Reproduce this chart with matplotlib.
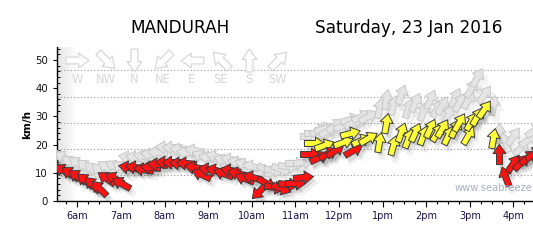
import matplotlib
matplotlib.use("Agg")
import matplotlib.pyplot as plt
import numpy as np
from matplotlib.path import Path
from matplotlib.markers import MarkerStyle
from matplotlib.transforms import Affine2D, offset_copy
from matplotlib.ticker import MultipleLocator, FixedLocator
from matplotlib.colors import LinearSegmentedColormap

# ---------------- data ----------------
station = "MANDURAH"
date_label = "Saturday, 23 Jan 2016"
watermark = "www.seabreeze"

obs_time = ["05:30", "05:40", "05:50", "06:00", "06:10", "06:20", "06:30", "06:40",
            "06:50", "07:00", "07:10", "07:20", "07:30", "07:40", "07:50", "08:00",
            "08:10", "08:20", "08:30", "08:40", "08:50", "09:00", "09:10", "09:20",
            "09:30", "09:40", "09:50", "10:00", "10:10", "10:20", "10:30", "10:40",
            "10:50", "11:00", "11:10", "11:20", "11:25", "11:32", "11:40", "11:45",
            "11:55", "12:05", "12:15", "12:20", "12:30", "12:40", "12:55", "13:05",
            "13:15", "13:25", "13:35", "13:45", "13:55", "14:05", "14:15", "14:22",
            "14:30", "14:40", "14:45", "14:57", "15:02", "15:10", "15:20", "15:32",
            "15:40", "15:48", "16:00", "16:10", "16:20", "16:28"]
avg_kmh = [12.5, 11.0, 10.0, 9.0, 7.5, 6.0, 4.5, 8.0,
           8.0, 6.5, 12.0, 12.0, 11.5, 12.0, 13.0, 14.0,
           14.0, 13.5, 13.5, 12.0, 9.5, 11.5, 11.0, 10.0,
           11.0, 10.0, 8.0, 8.5, 3.5, 6.5, 5.0, 4.5,
           6.0, 6.5, 8.5, 16.5, 20.5, 15.5, 20.0, 17.0,
           18.0, 21.0, 24.0, 18.0, 21.5, 22.5, 21.0, 27.5,
           20.0, 24.5, 22.5, 24.5, 23.5, 26.0, 24.5, 26.0,
           23.5, 26.0, 28.0, 23.5, 28.5, 30.0, 32.5, 22.5,
           16.5, 9.0, 13.5, 14.0, 15.5, 17.0]
gust_kmh = [16.0, 15.5, 14.0, 13.5, 12.5, 11.5, 11.0, 12.0,
            12.5, 12.0, 15.5, 15.5, 16.0, 16.5, 17.5, 19.0,
            19.0, 18.5, 17.5, 18.0, 16.0, 15.5, 16.0, 14.5,
            15.0, 14.0, 13.0, 12.5, 10.0, 11.0, 11.0, 11.5,
            12.5, 13.5, 14.0, 23.0, 24.0, 25.0, 26.0, 25.0,
            27.0, 27.0, 29.0, 28.0, 30.0, 30.0, 33.0, 36.0,
            34.0, 38.0, 33.0, 35.0, 32.0, 36.0, 33.0, 34.0,
            31.0, 37.0, 35.0, 36.0, 40.0, 44.0, 38.0, 34.0,
            24.0, 21.0, 23.0, 19.0, 22.0, 25.0]
dir_from = [115, 120, 125, 125, 130, 135, 135, 125,
            120, 120, 100, 100, 100, 95, 95, 95,
            90, 95, 95, 100, 115, 100, 105, 110,
            100, 105, 110, 105, 45, 300, 280, 290,
            275, 270, 265, 270, 270, 245, 250, 240,
            235, 250, 255, 240, 245, 240, 190, 190,
            195, 200, 200, 205, 200, 205, 210, 210,
            205, 205, 210, 210, 210, 210, 215, 190,
            180, 160, 215, 225, 230, 235]

hour_ticks = [6, 7, 8, 9, 10, 11, 12, 13, 14, 15, 16]
hour_labels = ["6am", "7am", "8am", "9am", "10am", "11am", "12pm", "1pm", "2pm", "3pm", "4pm"]
y_ticks = [0, 10, 20, 30, 40, 50]
compass_labels = ["W", "NW", "N", "NE", "E", "SE", "S", "SW"]
compass_deg = [270, 315, 0, 45, 90, 135, 180, 225]
grid_knots = [5, 10, 15, 20, 25]
yellow_from_kmh = 18.5

# ---------------- helpers ----------------
t_hours = [int(s[:2]) + int(s[3:]) / 60.0 for s in obs_time]

ARROW = Path([(-0.5, -0.15), (0.05, -0.15), (0.05, -0.32), (0.5, 0.0),
              (0.05, 0.32), (0.05, 0.15), (-0.5, 0.15), (-0.5, -0.15)],
             [Path.MOVETO] + [Path.LINETO] * 6 + [Path.CLOSEPOLY])


def arrow_marker(deg_from):
    # arrow points to where the wind blows
    return MarkerStyle(ARROW, transform=Affine2D().rotate_deg(270 - deg_from))


fig = plt.figure(figsize=(5.33, 2.40), dpi=100)
fig.patch.set_facecolor("white")
ax = fig.add_axes([57 / 533, 39 / 240, 476 / 533, 154 / 240])

# left gradient shading
grad = np.linspace(0, 1, 64)[None, :]
cm = LinearSegmentedColormap.from_list("g", ["#e4e4e4", "#ffffff"])
ax.imshow(grad, extent=[0, 0.04, 0, 1], transform=ax.transAxes, cmap=cm,
          aspect="auto", zorder=0, interpolation="bilinear")

ax.set_xlim(5.534, 16.45)
ax.set_ylim(0, 54.6)

# knot grid lines
for k in grid_knots:
    ax.axhline(k * 1.852, color="#9a9a9a", lw=0.8, ls=(0, (1, 2)), zorder=1)

sh1 = offset_copy(ax.transData, fig=fig, x=2.5, y=-3.5, units="dots")
sh2 = offset_copy(ax.transData, fig=fig, x=4, y=-6, units="dots")
MS = 14.5

# gust (ghost) arrows
for t, g, d in zip(t_hours, gust_kmh, dir_from):
    m = arrow_marker(d)
    ax.plot([t], [g], ls="none", marker=m, ms=MS + 1, mfc="black", mew=0,
            alpha=0.05, transform=sh2, zorder=2)
    ax.plot([t], [g], ls="none", marker=m, ms=MS, mfc="#e4e4e4", mec="#c8c8c8",
            mew=0.7, zorder=3)

# mean wind arrows
for t, s, d in zip(t_hours, avg_kmh, dir_from):
    m = arrow_marker(d)
    col = "#ffff3a" if s >= yellow_from_kmh else "#ff1212"
    ax.plot([t], [s], ls="none", marker=m, ms=MS + 1.5, mfc="black", mew=0,
            alpha=0.06, transform=sh2, zorder=4)
    ax.plot([t], [s], ls="none", marker=m, ms=MS, mfc="black", mew=0,
            alpha=0.09, transform=sh1, zorder=4)
    ax.plot([t], [s], ls="none", marker=m, ms=MS, mfc=col, mec="#3a3a3a",
            mew=0.7, zorder=5)

# compass legend
for i, (lab, d) in enumerate(zip(compass_labels, compass_deg)):
    xa = (77 + i * 28.7 - 57) / 476
    ax.plot([xa], [0.9156], ls="none", marker=arrow_marker(d), ms=16.5,
            mfc="white", mec="#d8d8d8", mew=0.9, transform=ax.transAxes,
            zorder=2, clip_on=False)
    ax.text(xa, 0.786, lab, transform=ax.transAxes, ha="center", va="center",
            fontsize=8.3, color="#d6d6d6", family="DejaVu Sans", zorder=2)

# watermark
ax.text((532 - 57) / 476, (201 - 188) / 154, watermark,
        transform=ax.transAxes, ha="right", va="center", fontsize=7.2,
        color="#a6b0c4", zorder=6)

# axes styling
for sp in ["top", "right"]:
    ax.spines[sp].set_visible(False)
ax.spines["left"].set_linewidth(1.0)
ax.spines["bottom"].set_linewidth(1.0)

ax.xaxis.set_major_locator(FixedLocator(hour_ticks))
ax.set_xticklabels(hour_labels)
ax.xaxis.set_minor_locator(MultipleLocator(0.25))
ax.yaxis.set_major_locator(FixedLocator(y_ticks))
ax.yaxis.set_minor_locator(MultipleLocator(2))
ax.tick_params(axis="x", which="major", length=4, width=0.8, pad=3.5,
               labelsize=7, labelcolor="#1c1048", direction="out")
ax.tick_params(axis="x", which="minor", length=2.2, width=0.8, direction="out")
ax.tick_params(axis="y", which="major", length=3, width=0.8, pad=3.5,
               labelsize=7.3, labelcolor="#111111", direction="out")
ax.tick_params(axis="y", which="minor", length=1.8, width=0.7, direction="in")

fig.text(27 / 533, 0.48, "km/h", rotation=90, ha="center", va="center",
         fontsize=7.5, fontweight="bold", color="black")

fig.text(180 / 533, 1 - 33.3 / 240, station, ha="center", va="baseline",
         fontsize=12.2, color="black")
fig.text(408.5 / 533, 1 - 33.3 / 240, date_label, ha="center", va="baseline",
         fontsize=12.2, color="black")

fig.savefig("out.png", dpi=100, facecolor="white")
